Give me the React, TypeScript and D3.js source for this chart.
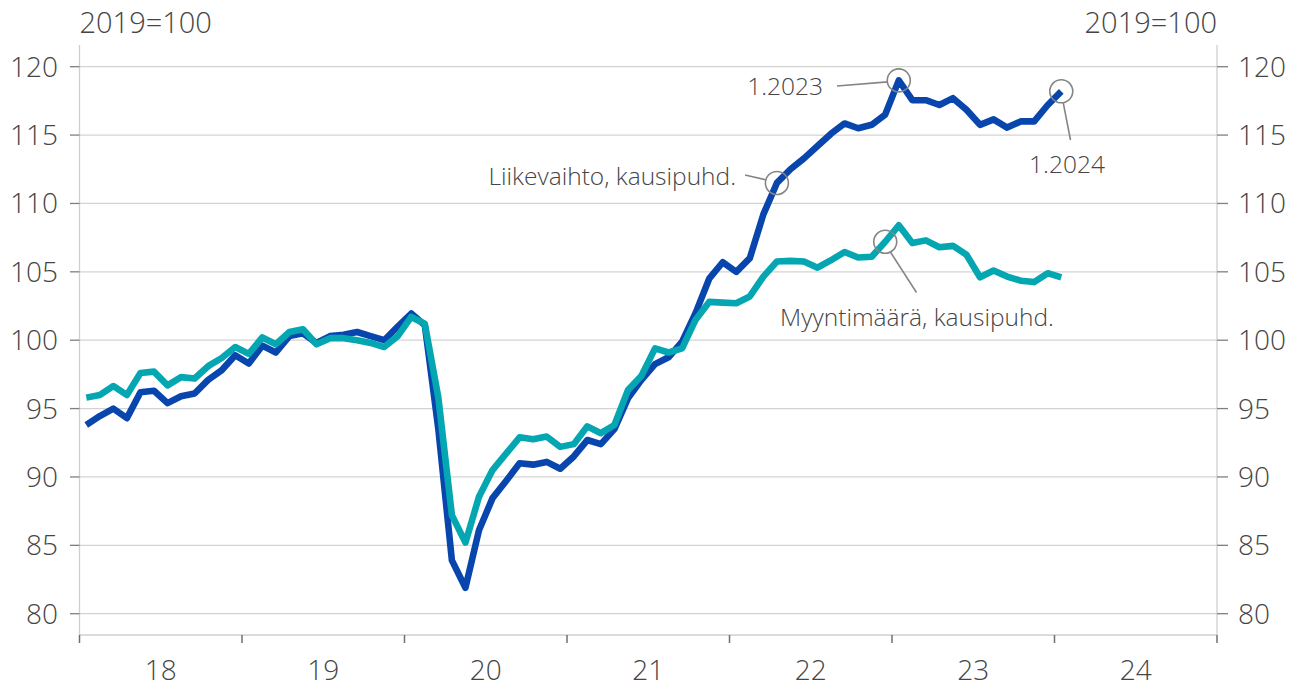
import React from "react";
import * as d3 from "d3";

// Monthly, Jan 2018 .. Jan 2024, 2019=100
const liikevaihto: number[] = [
  93.8, 94.45, 95.0, 94.3, 96.2, 96.3, 95.4, 95.9, 96.1, 97.1, 97.8, 98.9,
  98.3, 99.6, 99.1, 100.3, 100.5, 99.8, 100.3, 100.4, 100.6, 100.3, 100.0, 101.0,
  101.95, 101.1, 93.5, 83.9, 81.9, 86.1, 88.45, 89.7, 91.0, 90.9, 91.1, 90.6,
  91.5, 92.7, 92.4, 93.5, 95.75, 97.1, 98.25, 98.75, 99.9, 102.0, 104.5, 105.7,
  105.0, 106.0, 109.2, 111.5, 112.5, 113.3, 114.2, 115.1, 115.85, 115.5, 115.75, 116.5,
  119.0, 117.55, 117.55, 117.2, 117.7, 116.85, 115.75, 116.15, 115.55, 116.0, 116.0, 117.2,
  118.2,
];
const myyntimaara: number[] = [
  95.8, 96.0, 96.65, 96.0, 97.6, 97.7, 96.7, 97.3, 97.2, 98.1, 98.7, 99.5,
  99.0, 100.2, 99.7, 100.6, 100.8, 99.7, 100.15, 100.15, 100.0, 99.8, 99.5, 100.3,
  101.7, 101.2, 95.8, 87.2, 85.2, 88.55, 90.5, 91.7, 92.9, 92.75, 92.95, 92.2,
  92.4, 93.7, 93.2, 93.8, 96.35, 97.4, 99.4, 99.1, 99.4, 101.5, 102.8, 102.75,
  102.7, 103.2, 104.65, 105.75, 105.8, 105.75, 105.3, 105.85, 106.45, 106.05, 106.1, 107.2,
  108.4, 107.1, 107.3, 106.8, 106.9, 106.25, 104.6, 105.1, 104.65, 104.35, 104.25, 104.9,
  104.6,
];
const yearLabels: string[] = ["18", "19", "20", "21", "22", "23", "24"];
const yTicks: number[] = [80, 85, 90, 95, 100, 105, 110, 115, 120];
const unitLabel = "2019=100";

// annotations: month index, series, text
const annotations = [
  { i: 51, series: "l", text: "Liikevaihto, kausipuhd." },
  { i: 60, series: "l", text: "1.2023" },
  { i: 72, series: "l", text: "1.2024" },
  { i: 59, series: "m", text: "Myyntimäärä, kausipuhd." },
];

const W = 1291;
const H = 687;
const X0 = 79.5;
const X1 = 1217;
const AXIS_Y = 635;
const FONT = "'Open Sans', 'Noto Sans', sans-serif";
const TEXT = "#454545";
const NAVY = "#0846ae";
const TEAL = "#04a7b1";

export default function App() {
  const nMonths = yearLabels.length * 12;
  const x = d3.scaleLinear().domain([0, nMonths]).range([X0, X1]);
  const y = d3.scaleLinear().domain([80, 120]).range([613.7, 66.7]);

  const line = d3
    .line<number>()
    .x((_, i) => x(i + 0.5))
    .y((d) => y(d));

  const pt = (i: number, s: string) => {
    const v = s === "l" ? liikevaihto[i] : myyntimaara[i];
    return [x(i + 0.5), y(v)];
  };

  const [lx, ly] = pt(annotations[0].i, "l");
  const [ax, ay] = pt(annotations[1].i, "l");
  const [bx, by] = pt(annotations[2].i, "l");
  const [mx, my] = pt(annotations[3].i, "m");
  const R = 11.5;
  const AFS = 24.5;

  return (
    <svg
      width={W}
      height={H}
      style={{ position: "absolute", left: 0, top: 0, background: "#fff" }}
      fontFamily={FONT}
      fontWeight={300}
    >
      {/* grid */}
      {yTicks.map((t) => (
        <line key={"g" + t} x1={X0} x2={X1} y1={y(t)} y2={y(t)} stroke="#d3d3d3" strokeWidth={1.3} />
      ))}
      {/* axes */}
      <line x1={X0} x2={X0} y1={45} y2={AXIS_Y} stroke="#cfcfcf" strokeWidth={1.3} />
      <line x1={X1} x2={X1} y1={45} y2={AXIS_Y} stroke="#cfcfcf" strokeWidth={1.3} />
      <line x1={X0} x2={X1} y1={AXIS_Y} y2={AXIS_Y} stroke="#cfcfcf" strokeWidth={1.3} />
      {yTicks.map((t) => (
        <g key={"t" + t}>
          <line x1={70} x2={X0} y1={y(t)} y2={y(t)} stroke="#7f7f7f" strokeWidth={1.3} />
          <line x1={X1} x2={1228} y1={y(t)} y2={y(t)} stroke="#7f7f7f" strokeWidth={1.3} />
          <text x={58} y={y(t) + 10} textAnchor="end" fontSize={28} fill={TEXT}>
            {t}
          </text>
          <text x={1238} y={y(t) + 10} textAnchor="start" fontSize={28} fill={TEXT}>
            {t}
          </text>
        </g>
      ))}
      {d3.range(0, nMonths + 1, 12).map((m) => (
        <line key={"xt" + m} x1={x(m)} x2={x(m)} y1={AXIS_Y} y2={643} stroke="#6f6f6f" strokeWidth={1.5} />
      ))}
      {yearLabels.map((lab, k) => (
        <text key={"xl" + lab} x={x(k * 12 + 6)} y={680} textAnchor="middle" fontSize={28} fill={TEXT}>
          {lab}
        </text>
      ))}
      <text x={X0} y={33} textAnchor="start" fontSize={29} fill={TEXT}>
        {unitLabel}
      </text>
      <text x={X1} y={33} textAnchor="end" fontSize={29} fill={TEXT}>
        {unitLabel}
      </text>

      {/* series */}
      <path d={line(liikevaihto) || ""} fill="none" stroke={NAVY} strokeWidth={6.6} strokeLinejoin="round" />
      <path d={line(myyntimaara) || ""} fill="none" stroke={TEAL} strokeWidth={6.6} strokeLinejoin="round" />

      {/* annotations */}
      <g stroke="#858585" strokeWidth={1.6} fill="none">
        <circle cx={lx} cy={ly} r={R} />
        <circle cx={ax} cy={ay} r={R} />
        <circle cx={bx} cy={by} r={R} />
        <circle cx={mx} cy={my} r={R} />
        <line x1={745} y1={175} x2={lx - R + 1} y2={ly - 3} />
        <line x1={837} y1={86} x2={ax - R + 0.5} y2={ay + 1.5} />
        <line x1={bx + 2} y1={by + R} x2={1070.5} y2={140} />
        <line x1={mx + 5} y1={my + 10} x2={916.5} y2={292.5} />
      </g>
      <text x={736} y={185} textAnchor="end" fontSize={AFS} fill={TEXT}>
        {annotations[0].text}
      </text>
      <text x={823} y={95} textAnchor="end" fontSize={AFS} fill={TEXT}>
        {annotations[1].text}
      </text>
      <text x={1067} y={173} textAnchor="middle" fontSize={AFS} fill={TEXT}>
        {annotations[2].text}
      </text>
      <text x={917} y={326} textAnchor="middle" fontSize={AFS} fill={TEXT}>
        {annotations[3].text}
      </text>
    </svg>
  );
}
